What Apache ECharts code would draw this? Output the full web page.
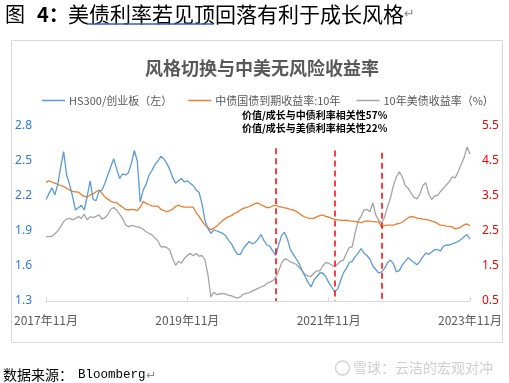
<!DOCTYPE html>
<html><head><meta charset="utf-8">
<script src="https://cdn.jsdelivr.net/npm/echarts@6.0.0/dist/echarts.min.js"></script>
<style>html,body{margin:0;padding:0;background:#fff}#c{width:509px;height:383px}</style>
</head><body><div id="c"></div>
<script>
// ---- data (semi-monthly readings, 2017-11 .. 2023-11) ----
const xTickLabels = ['2017年11月','2019年11月','2021年11月','2023年11月'];
const leftTicks = [1.3,1.6,1.9,2.2,2.5,2.8];
const rightTicks = [0.5,1.5,2.5,3.5,4.5,5.5];
const seriesNames = ['HS300/创业板（左）','中债国债到期收益率:10年','10年美债收益率（%）'];

const hs300Ratio = [
2.17,2.22,2.27,2.21,2.30,2.45,2.58,2.38,2.30,2.20,
2.08,2.10,2.12,2.08,2.20,2.33,2.17,2.16,2.24,2.25,
2.31,2.38,2.45,2.52,2.43,2.35,2.39,2.38,2.40,2.48,
2.59,2.50,2.15,2.25,2.30,2.38,2.42,2.47,2.50,2.54,
2.52,2.48,2.43,2.36,2.31,2.33,2.35,2.32,2.33,2.31,
2.29,2.25,2.23,2.13,1.99,1.92,1.88,1.91,1.90,1.89,
1.88,1.86,1.82,1.79,1.74,1.70,1.70,1.75,1.78,1.81,
1.79,1.80,1.83,1.87,1.82,1.78,1.77,1.73,1.69,1.78,
1.86,1.89,1.83,1.74,1.70,1.66,1.62,1.56,1.51,1.46,
1.42,1.48,1.51,1.54,1.54,1.51,1.46,1.42,1.38,1.40,
1.47,1.54,1.58,1.63,1.64,1.68,1.71,1.75,1.71,1.69,
1.66,1.60,1.57,1.54,1.55,1.58,1.63,1.65,1.62,1.55,
1.56,1.61,1.64,1.67,1.65,1.63,1.61,1.64,1.68,1.71,
1.70,1.72,1.74,1.74,1.73,1.77,1.78,1.78,1.79,1.80,
1.81,1.83,1.85,1.87,1.83];

const cn10y = [
3.89,3.93,3.90,3.87,3.83,3.80,3.77,3.72,3.67,3.63,
3.62,3.61,3.54,3.49,3.47,3.53,3.56,3.62,3.67,3.58,
3.47,3.41,3.35,3.32,3.31,3.24,3.18,3.12,3.10,3.12,
3.11,3.08,3.18,3.34,3.29,3.25,3.22,3.21,3.21,3.12,
3.09,3.05,3.08,3.12,3.20,3.24,3.20,3.18,3.18,3.18,
3.18,3.02,2.92,2.78,2.67,2.60,2.54,2.58,2.64,2.72,
2.80,2.86,2.91,2.94,3.00,3.04,3.10,3.15,3.17,3.20,
3.24,3.28,3.30,3.25,3.21,3.17,3.17,3.22,3.23,3.20,
3.18,3.16,3.15,3.12,3.10,3.06,3.00,2.94,2.90,2.87,
2.86,2.86,2.91,2.94,2.96,2.92,2.90,2.86,2.83,2.82,
2.81,2.80,2.81,2.79,2.78,2.77,2.76,2.74,2.77,2.79,
2.78,2.77,2.76,2.76,2.62,2.66,2.67,2.67,2.67,2.70,
2.72,2.75,2.82,2.88,2.91,2.90,2.87,2.86,2.84,2.83,
2.81,2.78,2.76,2.71,2.67,2.66,2.64,2.63,2.61,2.56,
2.58,2.62,2.68,2.70,2.65];

const us10y = [
2.34,2.34,2.35,2.42,2.50,2.63,2.77,2.84,2.86,2.82,
2.86,2.91,2.86,2.98,2.82,2.91,2.88,2.92,2.96,2.84,
2.88,2.97,3.12,3.17,3.10,2.98,2.86,2.68,2.62,2.66,
2.64,2.62,2.60,2.55,2.48,2.43,2.39,2.30,2.22,2.05,
2.05,2.03,1.96,1.72,1.52,1.63,1.58,1.72,1.80,1.86,
1.79,1.86,1.78,1.80,1.67,1.25,0.62,0.75,0.68,0.70,
0.72,0.70,0.66,0.65,0.61,0.58,0.62,0.69,0.72,0.74,
0.78,0.82,0.86,0.90,0.93,1.00,1.04,1.08,1.17,1.36,
1.58,1.70,1.68,1.62,1.58,1.55,1.45,1.36,1.26,1.22,
1.20,1.30,1.36,1.36,1.50,1.60,1.58,1.53,1.48,1.55,
1.63,1.67,1.86,2.03,2.05,2.45,2.78,2.92,3.10,3.12,
3.05,3.30,2.96,2.81,2.72,2.90,3.20,3.45,3.80,4.05,
4.19,4.05,3.80,3.72,3.58,3.46,3.42,3.56,3.80,3.88,
3.55,3.40,3.50,3.52,3.63,3.72,3.82,3.91,4.05,4.02,
4.20,4.40,4.60,4.90,4.70];

// event dates (index into semi-monthly categories) and the dashed-line top (left-axis value)
const eventIdx = [78, 98, 114];
const eventTop = [2.61, 2.59, 2.57];

const notes = ['价值/成长与中债利率相关性57%','价值/成长与美债利率相关性22%'];

// ---- categories: semi-monthly dates from 2017-11 ----
const categories = [];
for (let i = 0; i < hs300Ratio.length; i++) {
  const k = 10 + Math.floor(i / 2);
  const y = 2017 + Math.floor(k / 12);
  const mo = (k % 12) + 1;
  categories.push(y + '-' + String(mo).padStart(2, '0') + (i % 2 ? '-16' : '-01'));
}
const tickEvery = 48;

const CJK = '"Noto Sans CJK SC","Microsoft YaHei",sans-serif';
const near = (arr, v) => arr.some(t => Math.abs(t - v) < 1e-6);

const chart = echarts.init(document.getElementById('c'), null, {renderer: 'canvas'});
chart.setOption({
  animation: false,
  backgroundColor: '#fff',
  textStyle: {fontFamily: CJK},
  title: {
    text: '风格切换与中美无风险收益率',
    left: 140, top: 54,
    textStyle: {fontSize: 18, fontWeight: 'bold', color: '#595959', fontFamily: CJK}
  },
  legend: {
    left: 37, top: 90,
    icon: 'rect', itemWidth: 23, itemHeight: 1.5, itemGap: 16,
    textStyle: {fontSize: 11, color: '#595959', fontFamily: CJK, padding: [0,0,0,-1]},
    data: seriesNames
  },
  grid: {left: 46, right: 39, top: 126, bottom: 82},
  xAxis: {
    type: 'category', data: categories, boundaryGap: false,
    axisLine: {lineStyle: {color: '#d9d9d9', width: 1}},
    axisTick: {show: true, inside: true, length: 4, interval: (i) => i % tickEvery === 0, lineStyle: {color: '#d9d9d9'}},
    axisLabel: {
      interval: (i) => i % tickEvery === 0,
      formatter: (v, i) => (i % tickEvery === 0 ? xTickLabels[i / tickEvery] : ''),
      color: '#595959', fontSize: 12, margin: 13, fontFamily: CJK
    },
    splitLine: {show: false}
  },
  yAxis: [
    {
      type: 'value', min: 1.3, max: 2.8, interval: 0.1,
      axisLine: {show: false}, axisTick: {show: false}, splitLine: {show: false},
      axisLabel: {
        formatter: (v) => (near(leftTicks, v) ? v.toFixed(1) : ''),
        color: '#2E7BD6', fontSize: 12, margin: 14, fontFamily: '"Noto Sans",sans-serif'
      }
    },
    {
      type: 'value', min: 0.5, max: 5.5, interval: 0.5, position: 'right',
      axisLine: {show: false}, axisTick: {show: false}, splitLine: {show: false},
      axisLabel: {
        formatter: (v) => (near(rightTicks, v) ? v.toFixed(1) : ''),
        color: '#FF0000', fontSize: 12, margin: 12, fontFamily: '"Noto Sans",sans-serif'
      }
    }
  ],
  series: [
    {
      name: seriesNames[0], type: 'line', yAxisIndex: 0, data: hs300Ratio,
      symbol: 'none', lineStyle: {color: '#5B9BD5', width: 1.3}, itemStyle: {color: '#5B9BD5'},
      z: 3,
      markLine: {
        silent: true, symbol: ['none', 'none'],
        label: {show: false},
        lineStyle: {color: '#FF0000', type: [6, 4], width: 1.5},
        data: eventIdx.map((ix, k) => [
          {coord: [categories[ix], eventTop[k]]},
          {coord: [categories[ix], leftTicks[0]]}
        ])
      }
    },
    {
      name: seriesNames[1], type: 'line', yAxisIndex: 1, data: cn10y,
      symbol: 'none', lineStyle: {color: '#ED7D31', width: 1.3}, itemStyle: {color: '#ED7D31'}, z: 2
    },
    {
      name: seriesNames[2], type: 'line', yAxisIndex: 1, data: us10y,
      symbol: 'none', lineStyle: {color: '#A5A5A5', width: 1.3}, itemStyle: {color: '#A5A5A5'}, z: 1
    }
  ],
  graphic: [
    {type: 'rect', silent: true, z: -1, shape: {x: 11.5, y: 40.5, width: 491, height: 302},
     style: {fill: 'none', stroke: '#d9d9d9', lineWidth: 1}},
    {type: 'text', silent: true, x: 5, y: 14,
     style: {text: '图', font: '20px ' + CJK, fill: '#000', textVerticalAlign: 'middle'}},
    {type: 'text', silent: true, x: 37, y: 14,
     style: {text: '4：', font: 'bold 20px ' + CJK, fill: '#000', textVerticalAlign: 'middle'}},
    {type: 'text', silent: true, x: 68, y: 14,
     style: {text: '美债利率若见顶回落有利于成长风格', font: '21px ' + CJK, fill: '#000', textVerticalAlign: 'middle'}},
    {type: 'text', silent: true, x: 404, y: 15,
     style: {text: '↵', font: '13px "DejaVu Sans"', fill: '#8a8a8a', textVerticalAlign: 'middle'}},
    {type: 'line', silent: true, shape: {x1: 87, y1: 24, x2: 213, y2: 24},
     style: {stroke: '#2f5fd0', lineWidth: 1.3}},
    {type: 'text', silent: true, x: 242, y: 115,
     style: {text: notes[0], font: 'bold 10px ' + CJK, fill: '#000', textVerticalAlign: 'middle'}},
    {type: 'text', silent: true, x: 242, y: 128,
     style: {text: notes[1], font: 'bold 10px ' + CJK, fill: '#000', textVerticalAlign: 'middle'}},
    {type: 'text', silent: true, x: 3, y: 375,
     style: {text: '数据来源：', font: '14px ' + CJK, fill: '#000', textVerticalAlign: 'middle'}},
    {type: 'text', silent: true, x: 78, y: 375,
     style: {text: 'Bloomberg', font: '12.5px "Liberation Mono"', fill: '#000', textVerticalAlign: 'middle'}},
    {type: 'text', silent: true, x: 146, y: 376,
     style: {text: '↵', font: '12px "DejaVu Sans"', fill: '#8a8a8a', textVerticalAlign: 'middle'}},
    {type: 'circle', silent: true, shape: {cx: 342.5, cy: 368, r: 7},
     style: {fill: 'none', stroke: '#d4d4d4', lineWidth: 1.5}},
    {type: 'text', silent: true, x: 353, y: 368,
     style: {text: '雪球：云洁的宏观对冲', font: '14px ' + CJK, fill: '#d0d0d0', textVerticalAlign: 'middle'}}
  ]
});
</script>
</body></html>
